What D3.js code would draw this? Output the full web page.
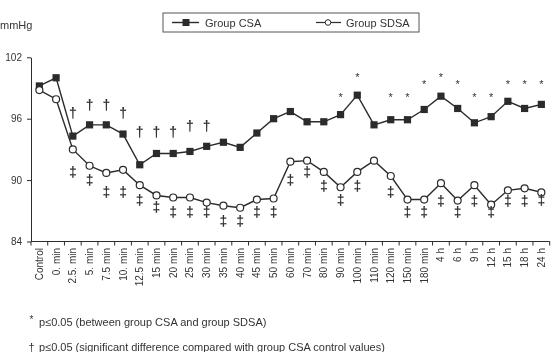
<!DOCTYPE html>
<html><head><meta charset="utf-8">
<script src="https://cdn.jsdelivr.net/npm/d3@7"></script>
<style>
html,body{margin:0;padding:0;background:#fff;}
svg{display:block;font-family:"Liberation Sans",Arial,sans-serif;}
</style></head>
<body><svg id="c" width="552" height="352"></svg>
<script>
const categories = ["Control","0. min","2.5. min","5. min","7.5 min","10. min","12.5 min","15 min","20 min","25 min","30 min","35 min","40 min","45 min","50 min","60 min","70 min","80 min","90 min","100 min","110 min","120 min","150 min","180 min","4 h","6 h","9 h","12 h","15 h","18 h","24 h"];
const csaValues  = [99.2,100.0,94.3,95.4,95.4,94.5,91.5,92.6,92.6,92.8,93.3,93.7,93.2,94.6,96.0,96.7,95.7,95.7,96.4,98.3,95.4,95.9,95.9,96.9,98.2,97.0,95.6,96.2,97.7,97.0,97.4];
const sdsaValues = [98.8,97.9,93.0,91.4,90.7,91.0,89.5,88.5,88.3,88.3,87.8,87.5,87.3,88.1,88.2,91.8,91.9,90.8,89.3,90.8,91.9,90.4,88.1,88.1,89.7,88.0,89.5,87.6,89.0,89.2,88.8];
const yTicks = [84,90,96,102];
// significance marks: category + level (mmHg) where the mark sits
const starMarks = [["90 min",98.3],["100 min",100.3],["120 min",98.3],["150 min",98.3],["180 min",99.6],["4 h",100.3],["6 h",99.6],["9 h",98.3],["12 h",98.3],["15 h",99.6],["18 h",99.6],["24 h",99.6]];
const daggerMarks = [["2.5. min",96.5],["5. min",97.3],["7.5 min",97.3],["10. min",96.5],["12.5 min",94.6],["15 min",94.6],["20 min",94.6],["25 min",95.2],["30 min",95.2]];
const ddaggerMarks = [["2.5. min",90.7],["5. min",89.9],["7.5 min",88.8],["10. min",88.8],["12.5 min",88.0],["15 min",87.3],["20 min",86.8],["25 min",86.8],["30 min",86.8],["35 min",85.9],["40 min",85.9],["45 min",86.8],["50 min",86.8],["60 min",89.9],["70 min",90.7],["80 min",89.3],["90 min",88.0],["100 min",89.3],["120 min",88.8],["150 min",86.8],["180 min",86.8],["4 h",87.9],["6 h",86.8],["9 h",87.9],["12 h",86.8],["15 h",87.9],["18 h",87.9],["24 h",88.0]];
const seriesNames = ["Group CSA","Group SDSA"];
const footnotes = [["*","p≤0.05 (between group CSA and group SDSA)"],["†","p≤0.05 (significant difference compared with group CSA control values)"]];

const ink = "#2b2b2b", txt = "#333";
const svg = d3.select("#c");
const root = svg.append("g").attr("opacity",0.999);
const x = d3.scaleBand().domain(categories).range([31, 549.7]).padding(0);
const y = d3.scaleLinear().domain([84,102]).range([241.5, 57.3]);
const cx = c => x(c) + x.bandwidth()/2;

// y axis
const ya = root.append("g").attr("transform","translate(31,0)")
  .call(d3.axisLeft(y).tickValues(yTicks).tickSize(4).tickPadding(5).tickSizeOuter(0));
ya.select(".domain").attr("stroke",ink);
ya.selectAll(".tick line").attr("stroke",ink);
ya.selectAll("text").attr("fill",txt).attr("font-size",10).attr("font-family","Liberation Sans, Arial, sans-serif");

root.append("text").attr("x",0).attr("y",29).attr("text-anchor","start")
  .attr("font-size",11).attr("fill",txt).text("mmHg");

// x axis
const xa = root.append("g").attr("transform","translate(0,241.5)");
xa.append("line").attr("x1",31).attr("x2",x.range()[1]).attr("stroke",ink);
const bounds = categories.map(c=>x(c)).concat([x.range()[1]]);
xa.selectAll("line.tk").data(bounds).join("line").attr("class","tk")
  .attr("x1",d=>d).attr("x2",d=>d).attr("y1",0).attr("y2",4).attr("stroke",ink);
xa.selectAll("text").data(categories).join("text")
  .attr("transform",d=>`translate(${cx(d)},6.5) rotate(-90)`)
  .attr("text-anchor","end").attr("dy","0.35em").attr("font-size",10).attr("fill",txt)
  .text(d=>d);

// lines
const line = d3.line().x((d,i)=>cx(categories[i])).y(d=>y(d));
root.append("path").datum(csaValues).attr("d",line).attr("fill","none").attr("stroke",ink).attr("stroke-width",1.4);
root.append("path").datum(sdsaValues).attr("d",line).attr("fill","none").attr("stroke",ink).attr("stroke-width",1.4);
root.selectAll("rect.csa").data(csaValues).join("rect").attr("class","csa")
  .attr("x",(d,i)=>cx(categories[i])-3.6).attr("y",d=>y(d)-3.6).attr("width",7.2).attr("height",7.2).attr("fill",ink);
root.selectAll("circle.sdsa").data(sdsaValues).join("circle").attr("class","sdsa")
  .attr("cx",(d,i)=>cx(categories[i])).attr("cy",d=>y(d)).attr("r",3.5)
  .attr("fill","#fff").attr("stroke",ink).attr("stroke-width",1.2);

// marks
root.selectAll("text.star").data(starMarks).join("text").attr("class","star")
  .attr("x",d=>cx(d[0])).attr("y",d=>y(d[1])).attr("dy","0.55em").attr("text-anchor","middle")
  .attr("font-size",11).attr("fill",txt).text("*");
root.selectAll("text.dag").data(daggerMarks).join("text").attr("class","dag")
  .attr("x",d=>cx(d[0])).attr("y",d=>y(d[1])).attr("dy","0.3em").attr("text-anchor","middle")
  .attr("font-size",14).attr("font-weight","bold").attr("fill",txt).text("†");
root.selectAll("text.ddag").data(ddaggerMarks).join("text").attr("class","ddag")
  .attr("x",d=>cx(d[0])).attr("y",d=>y(d[1])).attr("dy","0.3em").attr("text-anchor","middle")
  .attr("font-size",14).attr("font-weight","bold").attr("fill",txt).text("‡");

// legend
const lg = root.append("g");
lg.append("rect").attr("x",163).attr("y",13).attr("width",256).attr("height",19)
  .attr("fill","#fff").attr("stroke","#555").attr("stroke-width",1);
lg.append("line").attr("x1",172).attr("x2",199).attr("y1",22.5).attr("y2",22.5).attr("stroke",ink).attr("stroke-width",1.4);
lg.append("rect").attr("x",182.5).attr("y",19).attr("width",7).attr("height",7).attr("fill",ink);
lg.append("text").attr("x",205).attr("y",26.5).attr("font-size",11).attr("fill",txt).text(seriesNames[0]);
lg.append("line").attr("x1",316).attr("x2",341).attr("y1",22.5).attr("y2",22.5).attr("stroke",ink).attr("stroke-width",1.2);
lg.append("circle").attr("cx",328).attr("cy",22.5).attr("r",2.8).attr("fill","#fff").attr("stroke",ink).attr("stroke-width",1);
lg.append("text").attr("x",346).attr("y",26.5).attr("font-size",11).attr("fill",txt).text(seriesNames[1]);

// footnotes
footnotes.forEach((f,i)=>{
  const by = 326 + i*25;
  root.append("text").attr("x",31.5).attr("y",by - (i===0?3:0)).attr("text-anchor","middle")
    .attr("font-size",i===0?10:11).attr("fill",txt).text(f[0]);
  root.append("text").attr("x",39).attr("y",by).attr("font-size",11).attr("fill",txt).text(f[1]);
});
</script></body></html>
